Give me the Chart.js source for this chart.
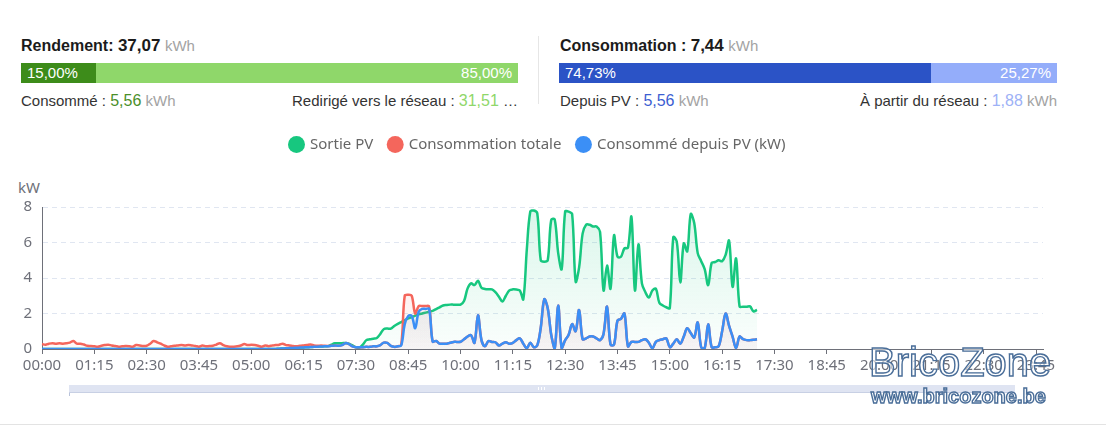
<!DOCTYPE html>
<html lang="fr">
<head>
<meta charset="UTF-8">
<title>Production et consommation PV</title>
<script src="https://cdn.jsdelivr.net/npm/chart.js"></script>
<style>
  body { margin: 0; width: 1106px; height: 441px; overflow: hidden; background: #fff;
         font-family: "Liberation Sans", Arial, sans-serif; position: relative; }
  .title { position: absolute; top: 36px; font-size: 16px; line-height: 20px; font-weight: bold; color: #1b1b1b; white-space: nowrap; }
  .title b { font-size: 17px; }
  .unit { color: #a3a3a3; font-weight: normal; font-size: 15px; }
  .bar { position: absolute; top: 63px; height: 20px; display: flex; color: #fff; font-size: 15px; line-height: 20px; }
  .bar div { padding: 0 6px; box-sizing: border-box; white-space: nowrap; overflow: hidden; }
  .row { position: absolute; top: 91px; font-size: 15px; line-height: 20px; color: #333; white-space: nowrap; }
  .row .v { font-size: 16px; }
  .sep { position: absolute; left: 538px; top: 36px; width: 1px; height: 68px; background: #e6e6e6; }
  #kw { position: absolute; left: 18px; top: 177px; font: 15px "Noto Sans", sans-serif; color: #6e7079; }
  #wrap { position: absolute; left: 0; top: 121px; width: 1106px; height: 259px; }
  .slider { position: absolute; left: 69px; top: 385px; width: 946px; height: 7px; background: #dfe4f2; border-bottom: 1px solid #c8d0e4; }
  .slider span { position: absolute; left: 469px; top: 2px; width: 5px; height: 3px;
                 border-left: 1px solid #fff; border-right: 1px solid #fff; }
  .slider span::after { content: ""; position: absolute; left: 2px; top: 0; width: 1px; height: 3px; background: #fff; }
  .tick0 { position: absolute; left: 69px; top: 393px; width: 1px; height: 3px; background: #b8c2da; }
  .bottomline { position: absolute; left: 0; top: 424px; width: 1106px; height: 1px; background: #e3e3e3; }
  .wm { position: absolute; font-family: "Liberation Sans", Arial, sans-serif; color: rgba(255,255,255,0.55);
        -webkit-text-stroke: 1.4px #4a6e99; white-space: nowrap; z-index: 5; }
  .wm1 { left: 869px; top: 339px; font-size: 40px; line-height: 46px; }
  .wm2 { left: 871px; top: 385px; font-size: 20px; line-height: 23px; font-weight: bold; }
</style>
</head>
<body>

<div class="title" style="left:21px">Rendement: <b>37,07</b> <span class="unit">kWh</span></div>
<div class="bar" style="left:21px;width:497px">
  <div style="width:15%;background:#3d8c1a">15,00%</div>
  <div style="width:85%;background:#8fd76a;text-align:right">85,00%</div>
</div>
<div class="row" style="left:21px">Consommé : <span class="v" style="color:#4a8f2a">5,56</span> <span class="unit">kWh</span></div>
<div class="row" style="right:588px">Redirigé vers le réseau : <span class="v" style="color:#8fd76a">31,51</span> …</div>

<div class="sep"></div>

<div class="title" style="left:560px">Consommation : <b>7,44</b> <span class="unit">kWh</span></div>
<div class="bar" style="left:559px;width:498px">
  <div style="width:74.73%;background:#2b53c6">74,73%</div>
  <div style="width:25.27%;background:#94adfa;text-align:right">25,27%</div>
</div>
<div class="row" style="left:560px">Depuis PV : <span class="v" style="color:#3c5ed2">5,56</span> <span class="unit">kWh</span></div>
<div class="row" style="right:49px">À partir du réseau : <span class="v" style="color:#9db1f6">1,88</span> <span class="unit">kWh</span></div>

<div id="kw">kW</div>
<div id="wrap"><canvas id="pvChart"></canvas></div>

<div class="slider"><span></span></div>
<div class="tick0"></div>
<div class="bottomline"></div>
<div class="wm wm1">BricoZone</div>
<div class="wm wm2">www.bricozone.be</div>

<script>
// graduations visibles (toutes les 1h15)
const tickLabels = ["00:00", "01:15", "02:30", "03:45", "05:00", "06:15", "07:30", "08:45", "10:00", "11:15",
                    "12:30", "13:45", "15:00", "16:15", "17:30", "18:45", "20:00", "21:15", "22:30", "23:45"];
const yTicks = [0, 2, 4, 6, 8];

// pas de 5 minutes, de 00:00 à 23:55
const times = [];
for (let m = 0; m < 24 * 60; m += 5) {
  times.push(String(Math.floor(m / 60)).padStart(2, "0") + ":" + String(m % 60).padStart(2, "0"));
}

// kW, une ligne = une heure (12 mesures)
const sortiePV = [
  0,0,0,0,0,0,0,0,0,0,0,0,
  0,0,0,0,0,0,0,0,0,0,0,0,
  0,0,0,0,0,0,0,0,0,0,0,0,
  0,0,0,0,0,0,0,0,0,0,0,0,
  0,0,0,0,0,0,0,0,0,0,0,0,
  0,0,0,0,0,0,0,0,0.02,0.03,0.04,0.05,
  0.06,0.07,0.08,0.09,0.1,0.11,0.12,0.13,0.14,0.15,0.16,0.25,
  0.32,0.33,0.33,0.34,0.3,0.2,0.1,0.08,0.25,0.5,0.55,0.58,
  0.62,0.85,1.12,1.15,1.15,1.3,1.42,1.52,1.62,1.72,1.8,1.88,
  1.95,2.0,2.05,2.1,2.15,2.25,2.35,2.45,2.48,2.5,2.5,2.5,
  2.5,2.7,3.4,3.7,3.6,3.85,3.45,3.38,3.36,3.36,3.2,2.95,
  2.67,3.0,3.3,3.36,3.35,3.3,2.8,5.6,7.75,7.8,7.65,5.0,
  4.92,5.0,7.27,7.3,5.4,4.5,7.75,7.74,7.6,3.8,4.6,6.5,
  7.0,7.0,6.9,6.9,6.6,3.3,4.7,3.4,6.4,5.2,5.2,5.67,
  5.7,7.45,3.3,5.9,3.7,3.2,2.9,3.3,3.4,2.6,2.45,2.35,
  2.3,6.3,6.05,3.75,5.95,5.5,7.6,7.1,5.4,4.95,4.5,3.6,
  4.85,4.9,5.0,4.95,5.3,6.1,3.5,5.1,2.4,2.38,2.38,2.4,
  2.12,2.2
];

const consoTotale = [
  0.28,0.24,0.3,0.33,0.3,0.32,0.3,0.32,0.36,0.45,0.3,0.3,
  0.25,0.18,0.17,0.15,0.13,0.18,0.22,0.24,0.2,0.17,0.13,0.15,
  0.17,0.16,0.13,0.22,0.2,0.17,0.18,0.3,0.45,0.38,0.3,0.2,
  0.13,0.15,0.18,0.2,0.22,0.2,0.23,0.2,0.17,0.13,0.2,0.15,
  0.17,0.18,0.25,0.33,0.22,0.15,0.13,0.13,0.15,0.2,0.28,0.22,
  0.24,0.22,0.18,0.13,0.2,0.16,0.2,0.22,0.24,0.3,0.22,0.2,
  0.17,0.15,0.18,0.2,0.22,0.25,0.2,0.18,0.2,0.18,0.17,0.18,
  0.2,0.18,0.22,0.33,0.28,0.15,0.1,0.1,0.1,0.12,0.12,0.15,
  0.15,0.22,0.36,0.34,0.18,0.12,0.15,0.25,3.0,3.05,3.0,2.0,
  2.42,2.42,2.42,2.4,0.42,0.45,0.3,0.3,0.3,0.35,0.4,0.4,
  0.41,0.55,0.7,0.78,0.35,1.9,0.5,0.15,0.45,0.4,0.38,0.2,
  0.3,0.38,0.3,0.34,0.5,0.6,0.3,0.05,0.35,0.1,0.2,1.2,
  2.8,2.3,0.8,0.02,2.45,0.05,0.5,0.8,1.4,1.0,2.2,0.55,
  0.6,0.7,0.7,0.6,0.5,0.85,2.39,0.25,0.25,1.6,1.7,2.0,
  0.15,0.4,0.4,0.4,0.5,0.55,0.35,0.04,0.4,0.5,0.55,0.6,
  0.1,0.3,0.55,0.3,0.7,1.17,0.9,0.65,1.5,0.1,0.05,1.4,
  0.1,0.1,0.15,1.0,2.0,1.3,0.7,0.05,0.7,0.55,0.5,0.5,
  0.52,0.55
];

const consoDepuisPV = [
  0,0,0,0,0,0,0,0,0,0,0,0,
  0,0,0,0,0,0,0,0,0,0,0,0,
  0,0,0,0,0,0,0,0,0,0,0,0,
  0,0,0,0,0,0,0,0,0,0,0,0,
  0,0,0,0,0,0,0,0,0,0,0,0,
  0,0,0,0,0,0,0,0,0.02,0.03,0.04,0.05,
  0.06,0.07,0.08,0.09,0.1,0.11,0.12,0.13,0.14,0.15,0.16,0.18,
  0.2,0.18,0.22,0.33,0.28,0.15,0.1,0.1,0.1,0.12,0.12,0.15,
  0.15,0.22,0.36,0.34,0.18,0.12,0.15,0.2,1.4,1.86,1.86,1.17,
  2.1,2.26,2.26,2.26,0.42,0.45,0.3,0.3,0.3,0.35,0.4,0.4,
  0.41,0.55,0.7,0.78,0.35,1.9,0.5,0.15,0.45,0.4,0.38,0.2,
  0.3,0.38,0.3,0.34,0.5,0.6,0.3,0.05,0.35,0.1,0.2,1.2,
  2.8,2.3,0.8,0.02,2.45,0.05,0.5,0.8,1.4,1.0,2.2,0.55,
  0.6,0.7,0.7,0.6,0.5,0.85,2.39,0.25,0.25,1.6,1.7,2.0,
  0.15,0.4,0.4,0.4,0.5,0.55,0.35,0.04,0.4,0.5,0.55,0.6,
  0.1,0.3,0.55,0.3,0.7,1.17,0.9,0.65,1.5,0.1,0.05,1.4,
  0.1,0.1,0.15,1.0,2.0,1.3,0.7,0.05,0.7,0.55,0.5,0.5,
  0.52,0.55
];

const GREEN = "#17c77f", RED = "#f4665c", BLUE = "#3b8ff6";
const chartFont = "'Noto Sans', sans-serif";

function fade(r, g, b, top, bottom) {
  return function (ctx) {
    const area = ctx.chart.chartArea;
    if (!area) return "rgba(0,0,0,0)";
    const grad = ctx.chart.ctx.createLinearGradient(0, area.top, 0, area.bottom);
    grad.addColorStop(0, `rgba(${r},${g},${b},${top})`);
    grad.addColorStop(1, `rgba(${r},${g},${b},${bottom})`);
    return grad;
  };
}

// légende : plus de place dessous, et centrée comme sur l'original
const legendSpace = {
  id: "legendSpace",
  beforeInit(chart) {
    const fit = chart.legend.fit;
    chart.legend.fit = function () { fit.call(this); this.height = 86; };
  },
  afterLayout(chart) {
    chart.legend.right = 1076;
  }
};

new Chart(document.getElementById("pvChart"), {
  type: "line",
  data: {
    labels: times,
    datasets: [
      { label: "Sortie PV", data: sortiePV, borderColor: GREEN, backgroundColor: fade(23, 199, 127, 0.16, 0.02), order: 2 },
      { label: "Consommation totale", data: consoTotale, borderColor: RED, backgroundColor: fade(244, 102, 92, 0.18, 0.04), order: 1 },
      { label: "Consommé depuis PV (kW)", data: consoDepuisPV, borderColor: BLUE, backgroundColor: fade(120, 130, 200, 0.14, 0.03), order: 0 }
    ]
  },
  options: {
    responsive: true,
    maintainAspectRatio: false,
    animation: false,
    layout: { padding: { left: 0, right: 63, top: 0, bottom: 0 } },
    elements: {
      line: { borderWidth: 2.5, tension: 0.35, fill: "origin" },
      point: { radius: 0, hoverRadius: 0 }
    },
    plugins: {
      tooltip: { enabled: false },
      legend: {
        position: "top",
        labels: {
          usePointStyle: true,
          pointStyle: "circle",
          boxWidth: 12,
          boxHeight: 12,
          padding: 16,
          color: "#666",
          font: { size: 15, family: chartFont },
          sort: (a, b) => a.datasetIndex - b.datasetIndex,
          generateLabels(chart) {
            const items = Chart.defaults.plugins.legend.labels.generateLabels(chart);
            items.forEach(it => {
              const c = chart.data.datasets[it.datasetIndex].borderColor;
              it.fillStyle = c; it.strokeStyle = c; it.lineWidth = 0;
            });
            return items;
          }
        }
      }
    },
    scales: {
      x: {
        offset: false,
        grid: { drawOnChartArea: false, drawTicks: true, tickLength: 5, color: "#6e7079" },
        border: { display: true, color: "#6e7079" },
        ticks: {
          autoSkip: false,
          maxRotation: 0,
          padding: 3,
          color: "#6e7079",
          font: { size: 15, family: chartFont },
          callback: (v, i) => (i % 15 === 0 ? tickLabels[i / 15] : null)
        },
        afterFit(scale) { scale.height = 31; }
      },
      y: {
        min: yTicks[0],
        max: yTicks[yTicks.length - 1],
        grid: { color: "#e0e6f1", drawTicks: false },
        border: { display: true, color: "#6e7079", dash: [5, 4] },
        ticks: {
          stepSize: 2,
          padding: 10,
          color: "#6e7079",
          font: { size: 15, family: chartFont }
        },
        afterFit(scale) { scale.width = 42; }
      }
    }
  },
  plugins: [legendSpace]
});
</script>
</body>
</html>
